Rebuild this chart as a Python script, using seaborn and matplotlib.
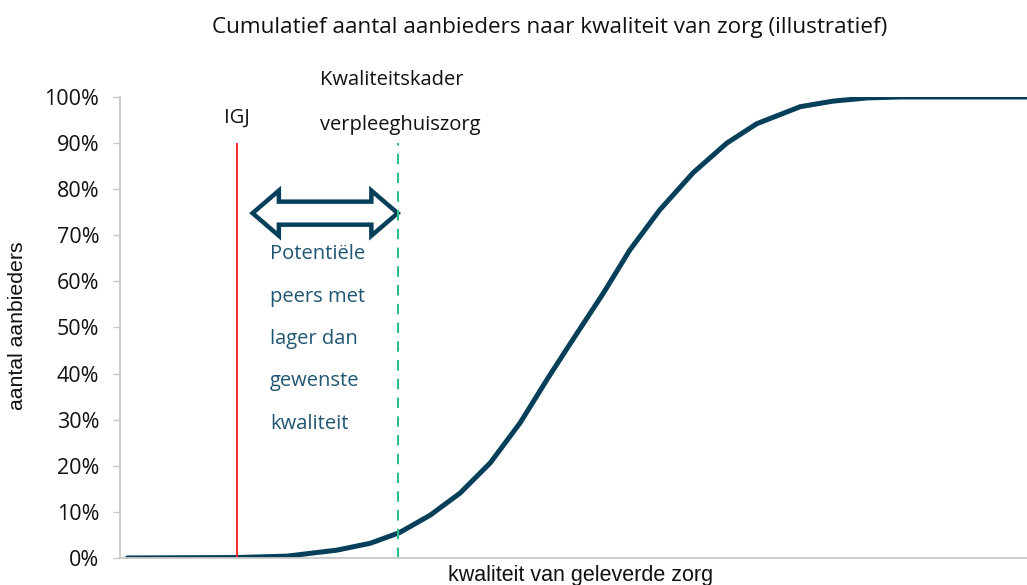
import numpy as np
import pandas as pd
import matplotlib.pyplot as plt
import matplotlib.patches as mpatches
import seaborn as sns

# illustrative cumulative curve (quality index 0-100, share of providers in %)
quality = [0.8, 12.9, 18.4, 23.9, 27.6, 30.8, 34.2, 37.5, 40.8, 44.1, 47.1, 49.4,
           53.3, 56.2, 59.5, 63.2, 66.9, 70.2, 75.0, 78.6, 82.4, 86.0, 100]
share = [0.0, 0.1, 0.4, 1.7, 3.2, 5.5, 9.3, 14.1, 20.6, 29.3, 38.8, 45.8,
         57.5, 66.8, 75.5, 83.6, 90.0, 94.2, 97.9, 99.1, 99.8, 100, 100]
igj_x, kader_x = 12.9, 30.6
marker_top = 90
yticks = np.arange(0, 101, 10)
note_lines = ["Potentiële", "peers met", "lager dan", "gewenste", "kwaliteit"]

sns.set_style("white")
plt.rcParams["font.family"] = ["Open Sans", "DejaVu Sans"]

df = pd.DataFrame({"kwaliteit": quality, "aandeel": share})
dark = "#063f5a"
txt = "#111111"
fs = 14.5


def double_arrow(ax, x0, x1, y, head_len, head_h, shaft_h, **kw):
    # hollow double-headed block arrow between x0 and x1
    pts = [(x0, y), (x0 + head_len, y + head_h), (x0 + head_len, y + shaft_h),
           (x1 - head_len, y + shaft_h), (x1 - head_len, y + head_h), (x1, y),
           (x1 - head_len, y - head_h), (x1 - head_len, y - shaft_h),
           (x0 + head_len, y - shaft_h), (x0 + head_len, y - head_h)]
    ax.add_patch(mpatches.Polygon(pts, closed=True, **kw))


fig = plt.figure(figsize=(10.27, 5.85), dpi=100)
ax = fig.add_axes([0.117, 0.0462, 0.883, 0.7880])
sns.lineplot(data=df, x="kwaliteit", y="aandeel", ax=ax, color=dark, lw=3.6,
             solid_capstyle="round", solid_joinstyle="round")
ax.vlines(igj_x, 0.2, marker_top, color="#ff1a1a", lw=1.3)
ax.vlines(kader_x, 0.0, marker_top, color="#2dbd8a", lw=1.5, linestyles=(0, (5, 4)))

double_arrow(ax, igj_x + 1.7, kader_x, 74.8, 2.9, 4.9, 2.5,
             fc="white", ec=dark, lw=3.2, joinstyle="miter")

for i, line in enumerate(note_lines):
    ax.text(16.5, 65.9 - i * 9.2, line, color="#1f5673", fontsize=fs,
            va="center", ha="left")
ax.text(igj_x, 95.4, "IGJ", fontsize=fs, ha="center", va="center", color=txt)
ax.text(22.0, 103.7, "Kwaliteitskader", fontsize=fs, ha="left", va="center",
        color=txt, clip_on=False)
ax.text(22.0, 93.9, "verpleeghuiszorg", fontsize=fs, ha="left", va="center",
        color=txt, clip_on=False)

ax.set_xlim(0, 100)
ax.set_ylim(0, 100)
ax.set_yticks(yticks)
ax.set_yticklabels([f"{v}%" for v in yticks], fontsize=15.5, color=txt)
ax.set_xticks([])
ax.set_xlabel("")
ax.set_ylabel("")
ax.tick_params(axis="y", length=5, width=1, color="#c8c8c8", left=True, pad=10)
for side in ["top", "right"]:
    ax.spines[side].set_visible(False)
for side in ["left", "bottom"]:
    ax.spines[side].set_color("#c8c8c8")
    ax.spines[side].set_linewidth(1.3)

fig.text(550 / 1027, 1 - 27 / 585, "Cumulatief aantal aanbieders naar kwaliteit van zorg (illustratief)",
         ha="center", va="center", fontsize=16.2, color=txt)
fig.text(18 / 1027, 1 - 326 / 585, "aantal aanbieders", rotation=90, ha="center", va="center",
         fontsize=15.3, color=txt, family="Liberation Sans")
fig.text(581 / 1027, 1 - 576 / 585, "kwaliteit van geleverde zorg", ha="center", va="center",
         fontsize=15.5, color=txt, family="Liberation Sans")

fig.savefig("out.png", dpi=100)
